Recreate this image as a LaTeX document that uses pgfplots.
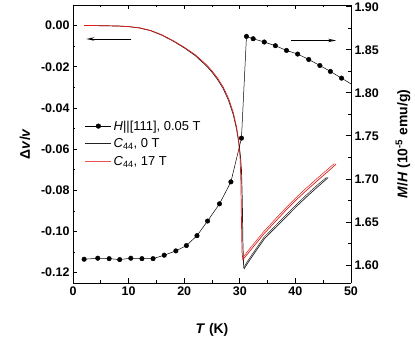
\documentclass[border=0pt]{standalone}
\usepackage{fontspec}
\setmainfont{Liberation Sans}
\usepackage{pgfplots}
\pgfplotsset{compat=1.18}
\usetikzlibrary{arrows.meta}
\definecolor{c44red}{RGB}{225,25,25}
\definecolor{c44blk}{RGB}{35,35,35}

\pgfplotsset{
  common/.style={
    scale only axis, width=278bp, height=278bp,
    xmin=0, xmax=50,
    tick align=inside,
    major tick length=4.5bp, minor tick length=2.5bp,
    axis line style={line width=0.8pt},
    tick style={line width=0.7pt, black},
    tick label style={font=\fontsize{12.5}{14}\selectfont\bfseries},
    /pgf/number format/assume math mode=true,
    yticklabel style={/pgf/number format/fixed,
      /pgf/number format/fixed zerofill, /pgf/number format/precision=2},
  },
  lineleg/.style={legend image code/.code={\draw[##1] (0bp,0bp) -- (26bp,0bp);}},
  markleg/.style={legend image code/.code={%
    \draw[mark repeat=2, mark phase=2, ##1] plot coordinates {(0bp,0bp) (13bp,0bp) (26bp,0bp)};}},
}

\begin{document}
\begin{tikzpicture}
% left axis: sound velocity
\begin{axis}[common,
  axis y line*=left,
  ymin=-0.125, ymax=0.01,
  ytick={-0.12,-0.10,-0.08,-0.06,-0.04,-0.02,0},
  minor y tick num=1,
  xtick={0,10,...,50}, minor x tick num=1,
  xtick pos=both, xticklabel pos=lower,
  lineleg,
  legend cell align=left,
  legend style={at={(axis description cs:0.032,0.599)}, anchor=north west,
    draw=none, fill=none, font=\fontsize{13}{15}\selectfont, row sep=3pt},
]
\coordinate (SW) at (rel axis cs:0,0);
\addlegendimage{black, line width=0.5pt, mark=*, mark size=2.3pt, markleg}
\addlegendentry{\textit{H}||[111], 0.05 T}
\addlegendimage{c44blk, line width=0.6pt}
\addlegendentry{\textit{C}\textsubscript{44}, 0 T}
\addlegendimage{c44red!75, line width=0.6pt}
\addlegendentry{\textit{C}\textsubscript{44}, 17 T}

\addplot[c44blk, line width=0.7pt, forget plot] coordinates {
 (2,0.0000) (4,0.0000) (6,-0.0001) (8,-0.0002) (10,-0.0005) (12,-0.0012)
 (14,-0.0025) (16,-0.0047) (18,-0.0075) (20,-0.0108) (22,-0.0146) (24,-0.0196)
 (25,-0.0226) (26,-0.0262) (27,-0.0305) (28,-0.0365) (28.8,-0.0430) (29.4,-0.0500)
 (29.8,-0.0565) (30.1,-0.0630) (30.3,-0.0700) (30.45,-0.0850) (30.55,-0.1050)
 (30.7,-0.1175) (30.8,-0.1180) (31.5,-0.1150) (32.5,-0.1110) (34.4,-0.1036)
 (36,-0.0993) (38,-0.0938) (40.4,-0.0873) (42,-0.0832) (44,-0.0783) (45.9,-0.0738)
};
\addplot[c44red, line width=0.7pt, forget plot] coordinates {
 (2,0.0000) (4,0.0000) (6,-0.0001) (8,-0.0002) (10,-0.0005) (12,-0.0011)
 (14,-0.0024) (16,-0.0045) (18,-0.0073) (20,-0.0105) (22,-0.0142) (24,-0.0190)
 (25,-0.0220) (26,-0.0255) (27,-0.0298) (28,-0.0355) (28.8,-0.0420) (29.4,-0.0490)
 (29.8,-0.0560) (30.05,-0.0640) (30.2,-0.0760) (30.3,-0.0950) (30.4,-0.1100)
 (30.55,-0.1137) (30.75,-0.1130) (31.3,-0.1112) (32.5,-0.1072) (34.35,-0.1011)
 (36,-0.0963) (38,-0.0905) (40.4,-0.0840) (42,-0.0800) (44,-0.0752) (46,-0.0705)
 (47.3,-0.0673)
};
% second sweep of each run, drawn close beside the first
\addplot[c44blk, line width=0.5pt, forget plot] coordinates {
 (30.8,-0.1170) (31.5,-0.1140) (32.5,-0.1100) (34.4,-0.1026) (36,-0.0983)
 (38,-0.0928) (40.4,-0.0863) (42,-0.0822) (44,-0.0773) (45.6,-0.0737)
};
\addplot[c44red, line width=0.5pt, forget plot] coordinates {
 (30.7,-0.1122) (31.3,-0.1100) (32.5,-0.1060) (34.35,-0.0999) (36,-0.0951)
 (38,-0.0893) (40.4,-0.0828) (42,-0.0788) (44,-0.0740) (46,-0.0693) (47.0,-0.0670)
};

\draw[black, line width=0.6pt, -{Stealth[length=8pt, width=3.5pt, open]}]
  (axis cs:10.5,-0.0065) -- (axis cs:2.4,-0.0065);
\end{axis}

% right axis: magnetization
\begin{axis}[common,
  axis y line*=right, axis x line=none,
  ymin=1.579, ymax=1.902,
  ytick={1.60,1.65,...,1.90},
  minor y tick num=1,
]
\addplot[black, line width=0.5pt] coordinates {
 (2.0,1.6066) (4.45,1.6078) (6.5,1.6073) (8.4,1.6062) (10.4,1.6078) (12.4,1.6073)
 (14.4,1.6073) (16.4,1.6113) (18.5,1.6163) (20.4,1.6225) (22.3,1.6340) (24.2,1.6510)
 (26.35,1.6710) (28.4,1.6965) (30.3,1.7473) (31.2,1.8655) (32.4,1.8628) (34.4,1.8590)
 (36.4,1.8547) (38.4,1.8492) (40.4,1.8450) (42.4,1.8387) (44.4,1.8317) (46.3,1.8248)
 (48.3,1.8170) (50.6,1.8080)
};
\addplot[black, only marks, mark=*, mark size=2.3pt] coordinates {
 (2.0,1.6066) (4.45,1.6078) (6.5,1.6073) (8.4,1.6062) (10.4,1.6078) (12.4,1.6073)
 (14.4,1.6073) (16.4,1.6113) (18.5,1.6163) (20.4,1.6225) (22.3,1.6340) (24.2,1.6510)
 (26.35,1.6710) (28.4,1.6965) (30.3,1.7473) (31.2,1.8655) (32.4,1.8628) (34.4,1.8590)
 (36.4,1.8547) (38.4,1.8492) (40.4,1.8450) (42.4,1.8387) (44.4,1.8317) (46.3,1.8248)
 (48.3,1.8170)
};
\draw[black, line width=0.6pt, -{Stealth[length=8pt, width=3.5pt, open]}]
  (axis cs:39.2,1.8608) -- (axis cs:47.3,1.8608);
\end{axis}

% axis titles
\node[rotate=90, font=\fontsize{14}{16}\selectfont\bfseries]
  at ([shift={(-48bp,139bp)}]SW) {Δ\textit{v}/\textit{v}};
\node[rotate=90, font=\fontsize{14}{16}\selectfont\bfseries]
  at ([shift={(330bp,139bp)}]SW) {\textit{M}/\textit{H} (10\textsuperscript{-5} emu/g)};
\node[font=\fontsize{14}{16}\selectfont\bfseries]
  at ([shift={(139bp,-47bp)}]SW) {\textit{T} (K)};

\pgfresetboundingbox
\path[use as bounding box] ([shift={(-73bp,-58bp)}]SW) rectangle ([shift={(342bp,283bp)}]SW);
\end{tikzpicture}
\end{document}
